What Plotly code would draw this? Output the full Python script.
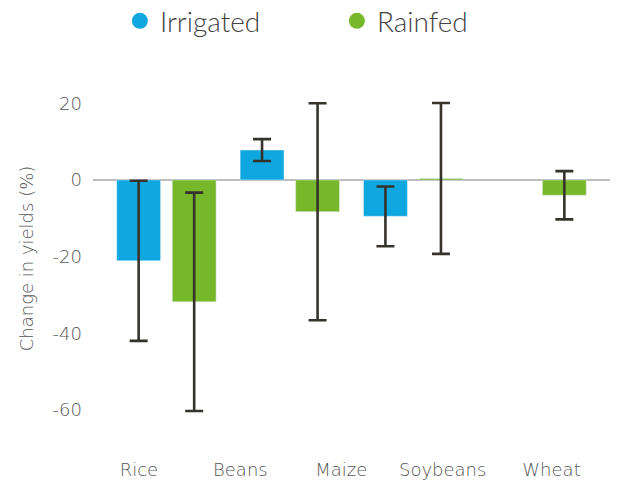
import plotly.graph_objects as go

# Crop yield change (%) by water regime, with uncertainty ranges
groups = [0, 1, 2, 3]
irrigated = [-21.1, 7.8, -9.5, None]
irrigated_err = [20.9, 2.85, 7.8, None]
rainfed = [-31.8, -8.3, 0.4, -4.0]
rainfed_err = [28.5, 28.3, 19.7, 6.3]

crop_labels = ["Rice", "Beans", "Maize", "Soybeans", "Wheat"]
crop_label_pos = [-0.223, 0.599, 1.417, 2.239, 3.121]
y_ticks = [-60, -40, -20, 0, 20]
y_ticktext = ["-60", "-40", "-20", "0", "20"]

BLUE = "#0FA7DF"
GREEN = "#77B72A"
ERR = "#36332C"
AXIS_FONT = dict(family="DejaVu Sans", size=18, color="#555555", weight=300)

err_style = dict(type="data", visible=True, color=ERR, thickness=2.6, width=9)

fig = go.Figure()
fig.add_trace(go.Bar(
    x=groups, y=irrigated, name="Irrigated", marker_color=BLUE,
    error_y=dict(array=irrigated_err, **err_style), showlegend=False,
))
fig.add_trace(go.Bar(
    x=groups, y=rainfed, name="Rainfed", marker_color=GREEN,
    error_y=dict(array=rainfed_err, **err_style), showlegend=False,
))
# circular legend keys
for name, col in [("Irrigated", BLUE), ("Rainfed", GREEN)]:
    fig.add_trace(go.Scatter(
        x=[None], y=[None], mode="markers", name=name,
        marker=dict(symbol="circle", size=16, color=col),
    ))

fig.update_layout(
    width=619, height=481,
    margin=dict(l=93, r=9, t=65, b=29, autoexpand=False),
    paper_bgcolor="white", plot_bgcolor="white",
    barmode="group", bargap=0.1, bargroupgap=0.21,
    font=AXIS_FONT,
    legend=dict(
        orientation="h", x=0.052, xanchor="left", y=0.956, yanchor="middle",
        yref="container", font=dict(family="Lato", size=28, color="#444444"),
        entrywidth=172, entrywidthmode="pixels", bgcolor="rgba(0,0,0,0)",
    ),
    xaxis=dict(
        range=[-0.595, 3.595], showgrid=False, zeroline=False, showline=False,
        tickmode="array", tickvals=crop_label_pos, ticktext=crop_labels,
        ticks="", ticklabelstandoff=5, tickfont=AXIS_FONT,
    ),
    yaxis=dict(
        range=[-71, 30], showgrid=False, showline=False,
        zeroline=True, zerolinecolor="#BDBDBD", zerolinewidth=2,
        tickmode="array", tickvals=y_ticks, ticktext=y_ticktext,
        ticks="", ticklabelstandoff=10, tickfont=AXIS_FONT,
        title=dict(text="Change in yields (%)", font=AXIS_FONT, standoff=14),
    ),
)

fig.write_html("out.html")
